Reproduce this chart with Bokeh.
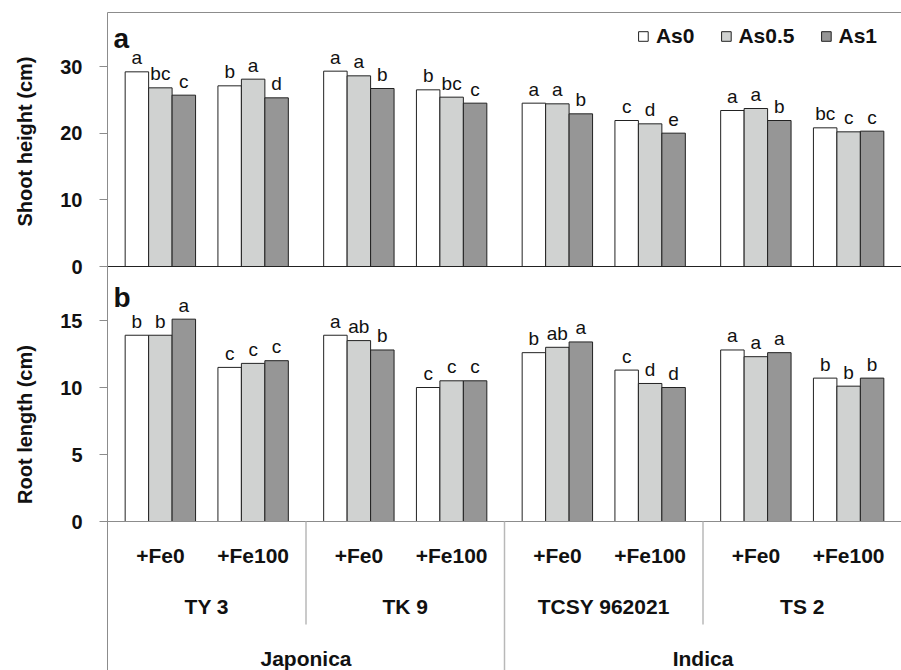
import math
from bokeh.plotting import figure
from bokeh.models import (Range1d, LinearAxis, FixedTicker, ColumnDataSource,
                          Label, Legend, LegendItem)
from bokeh.core.properties import value
from bokeh.embed import file_html
from bokeh.resources import INLINE

# ---------------- data ----------------
subspecies = ["Japonica", "Indica"]
cultivars = ["TY 3", "TK 9", "TCSY 962021", "TS 2"]
cultivar_subspecies = ["Japonica", "Japonica", "Indica", "Indica"]
iron = ["+Fe0", "+Fe100"]
series = ["As0", "As0.5", "As1"]

# order: TY3 Fe0, TY3 Fe100, TK9 Fe0, TK9 Fe100, TCSY Fe0, TCSY Fe100, TS2 Fe0, TS2 Fe100
shoot_as0 = [29.2, 27.1, 29.3, 26.5, 24.5, 21.9, 23.4, 20.8]
shoot_as05 = [26.8, 28.1, 28.6, 25.4, 24.4, 21.4, 23.7, 20.2]
shoot_as1 = [25.7, 25.3, 26.7, 24.5, 22.9, 20.0, 21.9, 20.3]

root_as0 = [13.9, 11.5, 13.9, 10.0, 12.6, 11.3, 12.8, 10.7]
root_as05 = [13.9, 11.8, 13.5, 10.5, 13.0, 10.3, 12.3, 10.1]
root_as1 = [15.1, 12.0, 12.8, 10.5, 13.4, 10.0, 12.6, 10.7]

shoot_letters_as0 = ["a", "b", "a", "b", "a", "c", "a", "bc"]
shoot_letters_as05 = ["bc", "a", "a", "bc", "a", "d", "a", "c"]
shoot_letters_as1 = ["c", "d", "b", "c", "b", "e", "b", "c"]

root_letters_as0 = ["b", "c", "a", "c", "b", "c", "a", "b"]
root_letters_as05 = ["b", "c", "ab", "c", "ab", "d", "a", "b"]
root_letters_as1 = ["a", "c", "b", "c", "a", "d", "a", "b"]

shoot_ticks = [0, 10, 20, 30]
root_ticks = [0, 5, 10, 15]

# ---------------- style / layout ----------------
colors = ["#ffffff", "#d0d2d1", "#969696"]
outline = "#222222"
axis_gray = "#8c8c8c"
sep_gray = "#b8b8b8"
FONT = "Liberation Sans"

W, H = 901, 670
AX_PX = 107                 # x pixel of the y axis line
TOP_LINE_PX = 12            # y pixel of the top frame line
A0_PX, B0_PX = 266, 521     # y pixel of the zero lines of panels a and b
SEP_END_PX = 624            # end of cultivar separators

gp = 0.14                   # gap between cultivar groups (category units)
group_w = 2 + gp
bw = 0.253                  # bar width
n_groups = len(cultivars)
x_end = n_groups * group_w
ppu_x = (W - AX_PX) / x_end
x_start = -AX_PX / ppu_x

ppu_a = 200.0 / 30.0        # px per cm, panel a
ppu_b = 201.0 / 15.0        # px per cm, panel b
a_top_line = (A0_PX - TOP_LINE_PX) / ppu_a
b_top = (B0_PX - A0_PX) / ppu_b
b_start = -(H - B0_PX) / ppu_b

p = figure(width=W, height=H, output_backend="svg", toolbar_location=None,
           x_range=Range1d(x_start, x_end),
           y_range=Range1d(-(H - A0_PX) / ppu_a, A0_PX / ppu_a),
           x_axis_location=None, y_axis_location=None,
           min_border_left=0, min_border_right=0,
           min_border_top=0, min_border_bottom=0)
p.extra_y_ranges = {"b": Range1d(b_start, B0_PX / ppu_b),
                    "lab": Range1d(H - B0_PX, -B0_PX)}
p.xgrid.grid_line_color = None
p.ygrid.grid_line_color = None
p.outline_line_color = None
p.background_fill_color = "white"
p.border_fill_color = "white"

# category centre positions
xs = [ci * group_w + gp / 2 + fj + 0.5 for ci in range(n_groups) for fj in range(len(iron))]
offsets = [-bw, 0.0, bw]

shoot = [shoot_as0, shoot_as05, shoot_as1]
root = [root_as0, root_as05, root_as1]
shoot_l = [shoot_letters_as0, shoot_letters_as05, shoot_letters_as1]
root_l = [root_letters_as0, root_letters_as05, root_letters_as1]

legend_items = []
for k, name in enumerate(series):
    xk = [x + offsets[k] for x in xs]
    sa = ColumnDataSource(dict(x=xk, top=shoot[k], lab=shoot_l[k]))
    sb = ColumnDataSource(dict(x=xk, top=root[k], lab=root_l[k]))
    ra = p.vbar(x="x", top="top", bottom=0, width=bw, source=sa,
                fill_color=colors[k], line_color=outline, line_width=1)
    p.vbar(x="x", top="top", bottom=0, width=bw, source=sb, y_range_name="b",
           fill_color=colors[k], line_color=outline, line_width=1)
    for src, rn in ((sa, "default"), (sb, "b")):
        p.text(x="x", y="top", text="lab", source=src, y_range_name=rn,
               text_align="center", text_baseline="alphabetic", y_offset=-14,
               text_font=value(FONT), text_font_size="19px", text_color="#111111")
    legend_items.append(LegendItem(label=name, renderers=[ra]))

# frame lines (top line, zero lines)
p.segment(x0=[0], y0=[a_top_line], x1=[x_end], y1=[a_top_line],
          line_color=axis_gray, line_width=1)
p.segment(x0=[0], y0=[0], x1=[x_end], y1=[0], line_color="#222222", line_width=1.2)
p.segment(x0=[0], y0=[0], x1=[x_end], y1=[0], y_range_name="b",
          line_color=axis_gray, line_width=1.2)

# y axes
def style_axis(ax):
    ax.axis_line_color = axis_gray
    ax.major_tick_line_color = axis_gray
    ax.major_tick_out = 8
    ax.major_tick_in = 0
    ax.minor_tick_line_color = None
    ax.major_label_standoff = 17
    ax.major_label_text_font = FONT
    ax.major_label_text_font_style = "bold"
    ax.major_label_text_font_size = "20px"
    ax.major_label_text_color = "#111111"

ax_a = LinearAxis(ticker=FixedTicker(ticks=shoot_ticks), bounds=(0, a_top_line), fixed_location=0)
ax_b = LinearAxis(y_range_name="b", ticker=FixedTicker(ticks=root_ticks),
                  bounds=(b_start, b_top), fixed_location=0)
style_axis(ax_a)
style_axis(ax_b)
p.add_layout(ax_a, "left")
p.add_layout(ax_b, "left")

# axis titles (screen units from frame bottom-left)
for txt, cy in (("Shoot height (cm)", 141), ("Root length (cm)", 424)):
    p.add_layout(Label(x=24, y=H - cy, x_units="screen", y_units="screen",
                       text=txt, angle=math.pi / 2, text_align="center", text_baseline="middle",
                       text_font=FONT, text_font_style="bold", text_font_size="20px",
                       text_color="#111111"))

# panel letters
for txt, base in (("a", 38), ("b", 297)):
    p.add_layout(Label(x=AX_PX + 6, y=H - base, x_units="screen", y_units="screen",
                       text=txt, text_align="left", text_baseline="alphabetic",
                       text_font=FONT, text_font_style="bold", text_font_size="28px",
                       text_color="#111111"))

# category label band ("lab" range: pixels below the panel-b zero line)
fe_src = ColumnDataSource(dict(x=xs, y=[34] * len(xs), t=iron * n_groups))
p.text(x="x", y="y", text="t", source=fe_src, y_range_name="lab",
       text_align="center", text_baseline="middle", text_font=value(FONT),
       text_font_style="bold", text_font_size="21px", text_color="#111111")
cv_x = [ci * group_w + group_w / 2 for ci in range(n_groups)]
cv_src = ColumnDataSource(dict(x=cv_x, y=[85] * n_groups, t=cultivars))
p.text(x="x", y="y", text="t", source=cv_src, y_range_name="lab",
       text_align="center", text_baseline="middle", text_font=value(FONT),
       text_font_style="bold", text_font_size="21px", text_color="#111111")
ss_x = []
for s in subspecies:
    idx = [i for i, c in enumerate(cultivar_subspecies) if c == s]
    ss_x.append((min(idx) * group_w + (max(idx) + 1) * group_w) / 2)
ss_src = ColumnDataSource(dict(x=ss_x, y=[137] * len(subspecies), t=subspecies))
p.text(x="x", y="y", text="t", source=ss_src, y_range_name="lab",
       text_align="center", text_baseline="middle", text_font=value(FONT),
       text_font_style="bold", text_font_size="21px", text_color="#111111")

sep_x, sep_len = [], []
for ci in range(1, n_groups):
    sep_x.append(ci * group_w)
    full = cultivar_subspecies[ci] != cultivar_subspecies[ci - 1]
    sep_len.append(H - B0_PX if full else SEP_END_PX - B0_PX)
p.segment(x0=sep_x, y0=[0] * len(sep_x), x1=sep_x, y1=sep_len, y_range_name="lab",
          line_color=sep_gray, line_width=1.5)

# legend
legend = Legend(items=legend_items, orientation="horizontal", location="top_right",
                margin=24, padding=0, spacing=25, label_standoff=7,
                glyph_width=12, glyph_height=12, label_height=12,
                label_text_font=FONT, label_text_font_style="bold",
                label_text_font_size="21px", label_text_color="#111111",
                border_line_color=None, background_fill_alpha=0)
p.add_layout(legend)

open("out.html", "w").write(file_html(p, INLINE))
